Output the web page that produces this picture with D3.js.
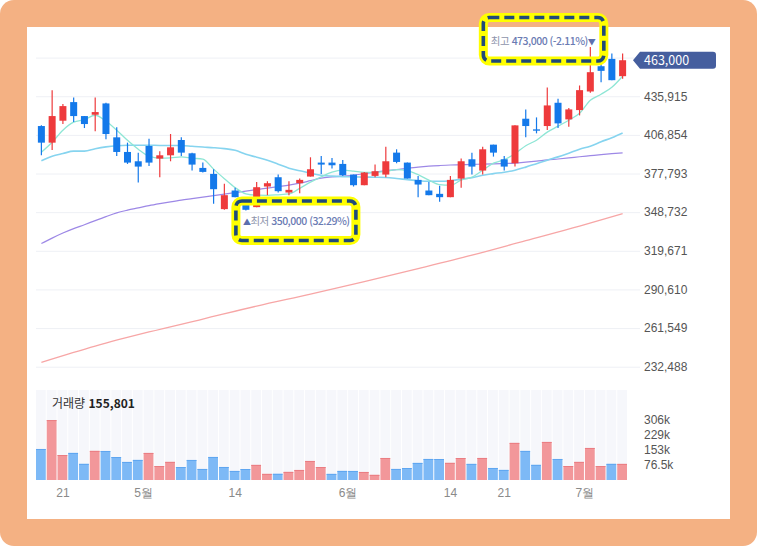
<!DOCTYPE html>
<html lang="ko">

<head>
    <meta charset="UTF-8">
    <title>D3.js Candle Chart</title>
    <script src="https://d3js.org/d3.v7.min.js"></script>
    <style>
        body {
            margin: 0;
            background: #fff;
        }

        svg {
            display: block;
            font-family: "Noto Sans CJK KR", "Noto Sans", sans-serif;
        }

        .grid line {
            stroke: #eef0f5;
        }

        .grid text,
        .vaxis text {
            fill: #555;
            font-size: 12px;
        }

        .xaxis text {
            fill: #8a8a8a;
            font-size: 12px;
        }

        .mark {
            font-size: 10.5px;
            letter-spacing: -0.5px;
        }
    </style>
</head>

<body>
    <div id="chart"></div>
    <script>
        // daily candles (oldest -> newest)
        const open = [413500, 401000, 417500, 431500, 421000, 422000, 430500, 405000, 394000, 387000,
            398500, 389000, 391500, 403000, 393000, 382000, 377500, 351000, 365000, 355500,
            352500, 368000, 375000, 363500, 370500, 375500, 386000, 386000, 385000, 377000,
            369000, 376000, 377000, 393500, 386000, 373000, 365000, 362500, 360000, 374000,
            388500, 380000, 399500, 388500, 385500, 419000, 411000, 413500, 431000, 418500,
            425500, 439500, 458500, 464000, 451000];
        const high = [414000, 440500, 430000, 435000, 421000, 435000, 431000, 412500, 401000, 393500,
            404000, 394500, 407500, 405000, 393500, 386000, 381000, 370000, 367000, 358500,
            371500, 372000, 377000, 372000, 374000, 390000, 391000, 389500, 388000, 377000,
            379000, 384500, 398000, 396000, 386000, 376000, 371500, 368500, 376000, 389000,
            393500, 398000, 399500, 391000, 414000, 426000, 420000, 442500, 434000, 427000,
            444000, 473000, 465500, 468000, 468000];
        const low = [391500, 395500, 415000, 416500, 412000, 409500, 403500, 391000, 385000, 371000,
            383500, 375000, 387000, 391000, 380000, 378500, 355000, 350500, 360000, 350000,
            352500, 361500, 363500, 361500, 363000, 375500, 377500, 381500, 376000, 368000,
            369000, 375000, 375000, 385500, 374000, 360000, 361500, 356500, 360000, 367000,
            377000, 377000, 390500, 380000, 383000, 405000, 408000, 410500, 412000, 413000,
            421500, 438500, 446500, 448000, 449000];
        const close = [401000, 421000, 428500, 421000, 415000, 424000, 407500, 394000, 386000, 383000,
            386000, 391500, 397500, 393500, 384500, 379000, 366000, 361500, 360000, 350500,
            367500, 370500, 364500, 365500, 373000, 381000, 384500, 384000, 376500, 369000,
            378500, 379500, 387000, 386500, 374000, 369500, 361500, 360000, 373000, 387000,
            383000, 396000, 393500, 383000, 414000, 413500, 410000, 429000, 415500, 426000,
            440500, 454000, 455000, 448000, 463000];
        const volume = [158200, 305600, 127400, 138100, 82300, 148500, 148000, 117200, 92100, 102400,
            138000, 71300, 92400, 66100, 102200, 56300, 117500, 66400, 46200, 56100,
            77000, 31200, 31500, 41300, 51200, 97100, 66200, 31100, 46300, 46100,
            41000, 26200, 112300, 56400, 61200, 87100, 107300, 107100, 87400, 112200,
            82100, 112400, 61300, 51400, 189200, 148300, 77200, 194100, 107200, 71400,
            92300, 163400, 71200, 82300, 82100];

        // moving averages
        const ma5 = [393800, 401300, 410400, 416400, 418300, 421600, 417100, 410400, 402800, 396100,
            390800, 389300, 389500, 390300, 389300, 388600, 381100, 373900, 367200, 362500,
            361500, 361400, 361800, 362400, 366600, 371300, 375300, 378800, 380300, 379600,
            378600, 378600, 379400, 380700, 379900, 376900, 372800, 369400, 369000, 372800,
            375000, 380300, 385600, 388200, 392700, 398700, 402800, 408900, 413400, 417900,
            423100, 432900, 437400, 442700, 451000];
        const ma20 = [387400, 390800, 392800, 394600, 394600, 396400, 397800, 398700, 399100, 399100,
            399100, 398900, 398900, 398900, 398300, 397700, 397200, 396500, 395300, 392300,
            390100, 387800, 384800, 381800, 379900, 378000, 376500, 375800, 375400, 375300,
            375100, 375000, 374800, 374100, 373200, 372400, 372000, 372000, 372400, 373500,
            374700, 376500, 377700, 378800, 380300, 382600, 385200, 387800, 390300, 393100,
            396100, 398300, 401700, 404700, 408300];
        const ma60 = [325100, 329200, 333000, 336300, 339300, 342400, 345400, 348200, 350200, 351900,
            353600, 355100, 356500, 357800, 358900, 360000, 361100, 362300, 363400, 364500,
            365700, 366800, 367900, 369000, 370500, 372400, 374300, 375200, 375900, 376500,
            377700, 378800, 379900, 380700, 381700, 382600, 383300, 383800, 384200, 384400,
            384700, 384800, 385000, 385300, 385600, 386300, 387100, 388000, 388700, 389500,
            390400, 391200, 392000, 392700, 393300];
        const ma120Idx = [0, 5, 10, 15, 20, 25, 30, 35, 40, 45, 50, 54];
        const ma120 = [235800, 248000, 258600, 268300, 278100, 287100, 296500, 306300, 316400, 327300, 338200, 347600];

        // axis ticks
        const priceTicks = [232488, 261549, 290610, 319671, 348732, 377793, 406854, 435915, 464976];
        const volTicks = [76500, 153000, 229500, 306000];
        const volTickLabels = ["76.5k", "153k", "229k", "306k"];
        const xTickIdx = [2, 10, 18, 29, 38, 43, 51];
        const xTickLabels = ["21", "5월", "14", "6월", "14", "21", "7월"];
        const volumeShown = 155801;

        const W = 757, H = 546;
        const n = close.length;
        const RED = "#ee3a3c", BLUE = "#1479ea";
        const fmt = d3.format(",");
        const last = close[n - 1];

        const svg = d3.select("#chart").append("svg")
            .attr("width", W)
            .attr("height", H);

        // frame
        svg.append("rect").attr("width", W).attr("height", H).attr("rx", 14).attr("fill", "#f4b183");
        svg.append("rect").attr("x", 27).attr("y", 27).attr("width", 703).attr("height", 492).attr("fill", "#fff");

        // scales
        const x = d3.scaleBand().domain(d3.range(n)).range([36, 628]);
        const bw = x.bandwidth();
        const cx = i => x(i) + bw / 2;
        const y = d3.scaleLinear().domain([232488, 464976]).range([366.7, 57.6]);
        const yv = d3.scaleLinear().domain([0, 306000]).range([480, 420]);
        const by = y(last);

        // price grid + labels (the label under the price badge is left out)
        svg.append("g")
            .attr("class", "grid")
            .attr("transform", "translate(640,0)")
            .call(d3.axisRight(y).tickValues(priceTicks)
                .tickFormat(d => Math.abs(y(d) - by) < 12 ? "" : fmt(d))
                .tickSize(-604).tickPadding(4))
            .call(g => g.select(".domain").remove());

        // moving averages
        const line = d3.line().x((d, i) => cx(i)).y(d => y(d)).curve(d3.curveMonotoneX);
        const maLines = [
            { v: ma60, color: "#9d88e6", w: 1.2 },
            { v: ma20, color: "#86d4ef", w: 1.6 },
            { v: ma5, color: "#8ee6d5", w: 1.3 }
        ];
        svg.append("path")
            .datum(ma120)
            .attr("fill", "none")
            .attr("stroke", "#f7a6a6")
            .attr("stroke-width", 1.3)
            .attr("d", d3.line().x((d, k) => cx(ma120Idx[k])).y(d => y(d)).curve(d3.curveMonotoneX));
        svg.selectAll(".ma")
            .data(maLines)
            .join("path")
            .attr("class", "ma")
            .attr("fill", "none")
            .attr("stroke", d => d.color)
            .attr("stroke-width", d => d.w)
            .attr("d", d => line(d.v));

        // candles
        const candle = svg.append("g").selectAll("g")
            .data(d3.range(n))
            .join("g")
            .attr("fill", i => close[i] >= open[i] ? RED : BLUE)
            .attr("stroke", i => close[i] >= open[i] ? RED : BLUE);
        candle.append("line")
            .attr("x1", cx).attr("x2", cx)
            .attr("y1", i => y(high[i]))
            .attr("y2", i => y(low[i]))
            .attr("stroke-width", 1.2);
        candle.append("rect")
            .attr("stroke", "none")
            .attr("x", i => cx(i) - 3.5)
            .attr("width", 7)
            .attr("y", i => y(Math.max(open[i], close[i])))
            .attr("height", i => Math.max(1.2, Math.abs(y(open[i]) - y(close[i]))));

        // volume panel
        svg.append("g").selectAll("rect")
            .data(d3.range(n))
            .join("rect")
            .attr("x", i => x(i))
            .attr("width", bw - 1)
            .attr("y", 390)
            .attr("height", 90)
            .attr("fill", "#f6f7fb");
        const up = i => i === 0 ? close[0] >= open[0] : close[i] >= close[i - 1];
        const vol = svg.append("g").selectAll("g")
            .data(d3.range(n))
            .join("g");
        vol.append("rect")
            .attr("x", i => x(i))
            .attr("width", bw - 1)
            .attr("y", i => yv(volume[i]))
            .attr("height", i => yv(0) - yv(volume[i]))
            .attr("fill", i => up(i) ? "#f2979a" : "#7db9f6");
        vol.append("rect")
            .attr("x", i => x(i))
            .attr("width", bw - 1)
            .attr("y", i => yv(volume[i]))
            .attr("height", 1)
            .attr("fill", i => up(i) ? "#ea7d82" : "#5fa6f0");

        svg.append("g")
            .attr("class", "vaxis")
            .attr("transform", "translate(640,0)")
            .call(d3.axisRight(yv).tickValues(volTicks).tickFormat((d, k) => volTickLabels[k]).tickSize(0).tickPadding(4))
            .call(g => g.select(".domain").remove());

        const vt = svg.append("text")
            .attr("x", 52)
            .attr("y", 407.5)
            .attr("font-size", 12)
            .attr("fill", "#333");
        vt.append("tspan").text("거래량 ");
        vt.append("tspan").attr("font-weight", "bold").attr("fill", "#222").text(fmt(volumeShown));

        // x axis
        svg.append("g")
            .attr("class", "xaxis")
            .attr("transform", "translate(0,484)")
            .call(d3.axisBottom(x).tickValues(xTickIdx).tickFormat((d, k) => xTickLabels[k]).tickSize(0).tickPadding(4.5))
            .call(g => g.select(".domain").remove())
            .selectAll("text")
            .attr("dx", (d, k) => xTickLabels[k].includes("월") ? -bw / 2 : 0);

        // current price badge
        svg.append("path")
            .attr("d", `M633,${by} L640,${by - 8.5} H713 Q716,${by - 8.5} 716,${by - 5.5} V${by + 5.5} Q716,${by + 8.5} 713,${by + 8.5} H640 Z`)
            .attr("fill", "#455e9e");
        svg.append("text")
            .attr("x", 644)
            .attr("y", by)
            .attr("dy", "0.36em")
            .attr("font-size", 12.5)
            .attr("fill", "#fff")
            .text(fmt(last));

        // high / low markers
        const hi = d3.maxIndex(high), lo = d3.minIndex(low);
        const pct = v => "(" + ((last - v) / v * 100).toFixed(2) + "%)";
        const hiText = svg.append("text")
            .attr("class", "mark")
            .attr("x", cx(hi) + 5)
            .attr("y", y(high[hi]) - 2)
            .attr("text-anchor", "end")
            .attr("fill", "#6a7bb3");
        hiText.append("tspan").attr("fill", "#8e94ab").text("최고 ");
        hiText.append("tspan").attr("font-weight", 500).text(fmt(high[hi]) + " " + pct(high[hi]));
        hiText.append("tspan").attr("font-size", 8).attr("fill", "#5d6fae").text("▼");

        const loText = svg.append("text")
            .attr("class", "mark")
            .attr("x", cx(lo) - 3)
            .attr("y", y(low[lo]) + 14.5)
            .attr("fill", "#6a7bb3");
        loText.append("tspan").attr("font-size", 8).attr("fill", "#5d6fae").text("▲");
        loText.append("tspan").attr("fill", "#8e94ab").text("최저 ");
        loText.append("tspan").attr("font-weight", 500).text(fmt(low[lo]) + " " + pct(low[lo]));

        // highlight boxes round the two markers
        const boxes = [
            { x: cx(hi) - 107, y: y(high[hi]) - 29.4, w: 120.5, h: 43.5 },
            { x: cx(lo) - 10, y: y(low[lo]) - 9.5, w: 120, h: 39.5 }
        ];
        svg.selectAll(".hlY")
            .data(boxes)
            .join("rect")
            .attr("class", "hlY")
            .attr("x", d => d.x).attr("y", d => d.y)
            .attr("width", d => d.w).attr("height", d => d.h)
            .attr("rx", 6)
            .attr("fill", "none")
            .attr("stroke", "#ffff00")
            .attr("stroke-width", 9);
        svg.selectAll(".hlN")
            .data(boxes)
            .join("rect")
            .attr("class", "hlN")
            .attr("x", d => d.x).attr("y", d => d.y)
            .attr("width", d => d.w).attr("height", d => d.h)
            .attr("rx", 6)
            .attr("fill", "none")
            .attr("stroke", "#1f4b7a")
            .attr("stroke-width", 3.6)
            .attr("stroke-dasharray", "10 5");
    </script>
</body>

</html>
